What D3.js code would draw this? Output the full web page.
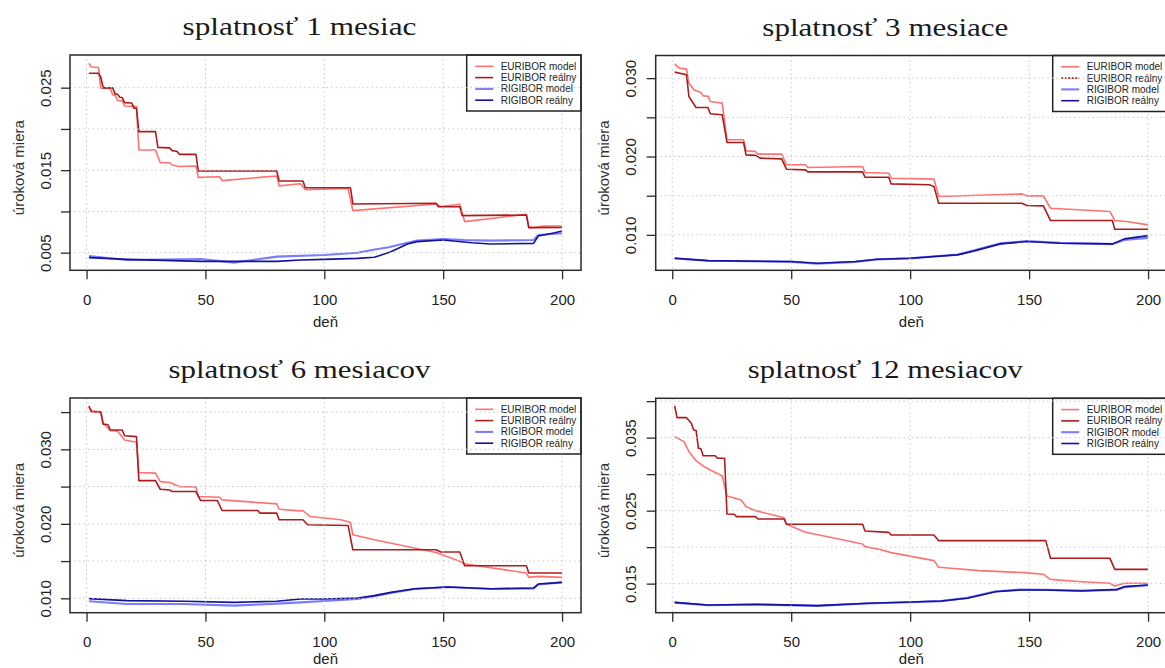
<!DOCTYPE html>
<html>
<head>
<meta charset="utf-8">
<script src="https://cdn.jsdelivr.net/npm/d3@7/dist/d3.min.js"></script>
<style>
  html, body { margin: 0; padding: 0; background: #fff; }
  svg { display: block; }
</style>
</head>
<body>
<svg id="chart" width="1165" height="668"></svg>
<script>
// ---- data: [deň, úroková miera] ----
// splatnosť 1 mesiac
const eurModel1 = [[1,.02795],[2,.02750],[5,.02745],[6,.02495],[10,.02490],[11,.02412],[12,.02410],[13,.02345],[15,.02340],[16,.02278],[21,.02270],[22,.01745],[29,.01745],[31,.01590],[35,.01590],[36,.01563],[39,.01545],[46,.01550],[47,.01413],[56,.01420],[57,.01373],[80,.01430],[81,.01310],[90,.01335],[92,.01262],[110,.01278],[112,.01010],[147,.01090],[149,.01060],[157,.01087],[159,.00877],[185,.00965],[186,.00807],[189,.00807],[192,.00822],[200,.00824]];
const eurReal1 = [[1,.02674],[5,.02674],[6,.02626],[7,.02497],[11,.02497],[12,.02425],[13,.02420],[14,.02384],[15,.02380],[16,.02319],[19,.02315],[20,.02250],[21,.02250],[22,.01967],[29,.01967],[30,.01777],[35,.01770],[36,.01737],[38,.01730],[39,.01692],[46,.01692],[47,.01490],[80,.01490],[81,.01369],[91,.01369],[92,.01288],[111,.01288],[112,.01091],[147,.01100],[148,.01056],[157,.01056],[158,.00949],[185,.00957],[186,.00804],[200,.00806]];
const rigModel1 = [[1,.00460],[17,.00412],[48,.00424],[62,.00380],[80,.00452],[100,.00472],[114,.00500],[120,.00533],[127,.00565],[135,.00621],[139,.00646],[150,.00666],[159,.00653],[170,.00646],[188,.00653],[190,.00714],[200,.00735]];
const rigReal1 = [[1,.00440],[17,.00419],[48,.00395],[80,.00395],[90,.00411],[100,.00419],[114,.00431],[121,.00444],[124,.00472],[128,.00512],[135,.00605],[139,.00634],[150,.00653],[162,.00621],[170,.00605],[188,.00613],[190,.00702],[197,.00742],[200,.00762]];

// splatnosť 3 mesiace
const eurModel3 = [[1,.03183],[3,.03128],[6,.03115],[7,.02936],[8,.02900],[9,.02851],[12,.02817],[13,.02774],[15,.02770],[16,.02702],[21,.02681],[23,.02213],[30,.02213],[31,.02072],[35,.02065],[36,.02030],[46,.02030],[48,.01894],[56,.01894],[57,.01860],[80,.01872],[81,.01796],[91,.01787],[92,.01723],[110,.01711],[112,.01489],[147,.01523],[149,.01498],[156,.01498],[159,.01340],[184,.01298],[186,.01183],[191,.01170],[200,.01128]];
const eurReal3 = [[1,.03077],[6,.03043],[7,.02766],[10,.02626],[15,.02626],[16,.02545],[21,.02532],[23,.02179],[30,.02179],[31,.02021],[35,.02015],[37,.01979],[46,.01970],[48,.01838],[56,.01830],[57,.01804],[80,.01804],[81,.01736],[91,.01736],[92,.01651],[108,.01640],[110,.01617],[112,.01404],[147,.01404],[149,.01374],[156,.01370],[159,.01183],[185,.01183],[186,.01072],[200,.01072]];
const rigModel3 = [[1,.00700],[15,.00670],[50,.00655],[61,.00632],[77,.00655],[86,.00685],[100,.00700],[120,.00750],[127,.00805],[138,.00892],[149,.00922],[163,.00898],[185,.00882],[190,.00935],[200,.00962]];
const rigReal3 = [[1,.00702],[15,.00672],[50,.00660],[61,.00638],[77,.00660],[86,.00689],[100,.00702],[120,.00745],[127,.00796],[138,.00885],[149,.00915],[163,.00894],[185,.00885],[190,.00949],[200,.00991]];

// splatnosť 6 mesiacov
const eurModel6 = [[1,.03580],[2,.03518],[6,.03504],[7,.03339],[8,.03320],[10,.03250],[13,.03245],[16,.03125],[21,.03094],[22,.02688],[29,.02680],[31,.02567],[35,.02554],[39,.02500],[46,.02495],[47,.02366],[56,.02357],[57,.02321],[80,.02268],[81,.02196],[90,.02174],[91,.02179],[94,.02098],[107,.02054],[111,.02018],[112,.01853],[121,.01786],[147,.01616],[157,.01496],[159,.01464],[185,.01339],[186,.01281],[190,.01295],[200,.01281]];
const eurReal6 = [[1,.03580],[2,.03504],[6,.03500],[7,.03339],[9,.03330],[10,.03259],[15,.03259],[16,.03183],[21,.03170],[22,.02580],[29,.02580],[31,.02464],[35,.02455],[36,.02433],[46,.02433],[48,.02313],[55,.02313],[57,.02179],[72,.02179],[73,.02143],[80,.02143],[81,.02054],[91,.02054],[93,.01987],[110,.01978],[112,.01652],[147,.01652],[149,.01621],[157,.01621],[159,.01438],[185,.01438],[186,.01339],[200,.01339]];
const rigModel6 = [[1,.00960],[17,.00924],[41,.00924],[62,.00902],[80,.00929],[90,.00946],[100,.00964],[114,.00991],[121,.01027],[128,.01071],[138,.01125],[152,.01152],[170,.01125],[188,.01134],[190,.01185],[200,.01214]];
const rigReal6 = [[1,.00996],[17,.00969],[41,.00960],[62,.00946],[80,.00960],[90,.00991],[100,.00991],[114,.01004],[121,.01036],[128,.01080],[138,.01129],[152,.01152],[170,.01129],[188,.01138],[190,.01192],[200,.01214]];

// splatnosť 12 mesiacov
const eurModel12 = [[1,.03514],[5,.03445],[7,.03308],[10,.03185],[13,.03112],[16,.03057],[21,.02975],[23,.02701],[29,.02646],[31,.02555],[35,.02500],[47,.02404],[48,.02313],[56,.02203],[70,.02112],[80,.02043],[81,.02007],[87,.01970],[92,.01925],[110,.01815],[112,.01724],[129,.01678],[148,.01651],[156,.01628],[159,.01559],[172,.01527],[184,.01505],[186,.01468],[190,.01505],[200,.01505]];
const eurReal12 = [[1,.03934],[2,.03774],[6,.03774],[8,.03696],[9,.03605],[10,.03600],[11,.03354],[12,.03350],[13,.03253],[18,.03253],[19,.03217],[22,.03217],[23,.02454],[26,.02450],[27,.02418],[35,.02418],[36,.02386],[47,.02386],[48,.02313],[80,.02313],[81,.02221],[91,.02203],[92,.02167],[110,.02167],[112,.02089],[157,.02089],[159,.01847],[184,.01847],[186,.01696],[200,.01696]];
const rigModel12 = [[1,.01240],[15,.01205],[36,.01212],[61,.01195],[82,.01228],[100,.01245],[113,.01260],[124,.01305],[136,.01395],[146,.01418],[157,.01415],[172,.01405],[187,.01415],[190,.01452],[200,.01478]];
const rigReal12 = [[1,.01244],[15,.01208],[36,.01217],[61,.01199],[82,.01231],[100,.01249],[113,.01263],[124,.01299],[136,.01390],[146,.01413],[157,.01413],[172,.01400],[187,.01422],[190,.01459],[200,.01482]];

// ---- labels and ticks ----
const titles = ["splatnosť 1 mesiac", "splatnosť 3 mesiace", "splatnosť 6 mesiacov", "splatnosť 12 mesiacov"];
const seriesNames = ["EURIBOR model", "EURIBOR reálny", "RIGIBOR model", "RIGIBOR reálny"];
const xTicks = [0, 50, 100, 150, 200];
const yTicks1 = [0.005, 0.010, 0.015, 0.020, 0.025];
const yTicks3 = [0.010, 0.015, 0.020, 0.025, 0.030];
const yTicks6 = [0.010, 0.015, 0.020, 0.025, 0.030, 0.035];
const yTicks12 = [0.015, 0.020, 0.025, 0.030, 0.035, 0.040];
const yLabeled1 = [0.005, 0.015, 0.025];
const yLabeled3 = [0.010, 0.020, 0.030];
const yLabeled6 = [0.010, 0.020, 0.030];
const yLabeled12 = [0.015, 0.025, 0.035];
const xLabel = "deň";
const yLabel = "úroková miera";

// ---- styling ----
const colors = ["#ff7272", "#ad1c1c", "#7c7cff", "#12129e"];
const widths = [1.6, 1.6, 2.1, 1.6];

// ---- panel layout (plot regions in px) ----
const panels = [
  { title: titles[0], x0: 70,    x1: 581,  y0: 55,    y1: 270.3, yDom: [0.002866, 0.02896], yTicks: yTicks1,  yLab: yLabeled1,  data: [eurModel1, eurReal1, rigModel1, rigReal1], titleW: 234, xTitleY: 321, legendDash: [null, null, null, null] },
  { title: titles[1], x0: 655.7, x1: 1167, y0: 55.5,  y1: 270.3, yDom: [0.00548, 0.03289],  yTicks: yTicks3,  yLab: yLabeled3,  data: [eurModel3, eurReal3, rigModel3, rigReal3], titleW: 246, xTitleY: 321, legendDash: [null, "2,1.5", null, null] },
  { title: titles[2], x0: 70,    x1: 581,  y0: 398,   y1: 612.7, yDom: [0.00807, 0.03689],  yTicks: yTicks6,  yLab: yLabeled6,  data: [eurModel6, eurReal6, rigModel6, rigReal6], titleW: 262, xTitleY: 658, legendDash: [null, null, null, null] },
  { title: titles[3], x0: 655.7, x1: 1167, y0: 398.3, y1: 612.7, yDom: [0.01102, 0.04039],  yTicks: yTicks12, yLab: yLabeled12, data: [eurModel12, eurReal12, rigModel12, rigReal12], titleW: 275, xTitleY: 658, legendDash: [null, null, null, null] }
];

const svg = d3.select("#chart");
svg.append("rect").attr("width", 1165).attr("height", 668).attr("fill", "#fff");

const sans = "'Liberation Sans', Arial, sans-serif";
const serif = "'Liberation Serif', 'DejaVu Serif', serif";
const fmt = d3.format(".3f");

panels.forEach((p, i) => {
  const g = svg.append("g");
  const x = d3.scaleLinear().domain([-6.96, 207.96]).range([p.x0, p.x1]);
  const y = d3.scaleLinear().domain(p.yDom).range([p.y1, p.y0]);

  // title
  g.append("text")
    .attr("x", (p.x0 + p.x1) / 2 - 26)
    .attr("y", p.y0 - 20)
    .attr("text-anchor", "middle")
    .attr("font-family", serif)
    .attr("font-size", 25)
    .attr("textLength", p.titleW)
    .attr("lengthAdjust", "spacingAndGlyphs")
    .attr("fill", "#1a1a1a")
    .text(p.title);

  // series
  const clipId = "clip" + i;
  g.append("clipPath").attr("id", clipId)
    .append("rect").attr("x", p.x0).attr("y", p.y0)
    .attr("width", p.x1 - p.x0).attr("height", p.y1 - p.y0);
  const line = d3.line().x(d => x(d[0])).y(d => y(d[1]));
  const lines = g.append("g").attr("clip-path", `url(#${clipId})`);
  p.data.forEach((s, k) => {
    lines.append("path")
      .attr("d", line(s))
      .attr("fill", "none")
      .attr("stroke", colors[k])
      .attr("stroke-width", widths[k])
      .attr("stroke-linejoin", "round");
  });

  // legend (top-right corner)
  const lw = 114.3, lh = 56;
  const lx = p.x1 - lw, ly = p.y0;
  const leg = g.append("g");
  leg.append("rect")
    .attr("x", lx).attr("y", ly).attr("width", lw).attr("height", lh)
    .attr("fill", "#fff").attr("stroke", "#222").attr("stroke-width", 1.5);
  seriesNames.forEach((name, k) => {
    const yy = ly + 11.3 + k * 11.3;
    leg.append("line")
      .attr("x1", lx + 8.5).attr("x2", lx + 26.5)
      .attr("y1", yy).attr("y2", yy)
      .attr("stroke", colors[k]).attr("stroke-width", widths[k])
      .attr("stroke-dasharray", p.legendDash[k]);
    leg.append("text")
      .attr("x", lx + 34).attr("y", yy)
      .attr("dominant-baseline", "central")
      .attr("font-family", sans).attr("font-size", 10)
      .attr("fill", "#222")
      .text(name);
  });

  // grid (drawn over the lines)
  const grid = g.append("g")
    .attr("stroke", "#c8c8c8").attr("stroke-width", 1)
    .attr("stroke-dasharray", "1.5,3");
  xTicks.forEach(t => {
    grid.append("line").attr("x1", x(t)).attr("x2", x(t))
      .attr("y1", p.y0).attr("y2", p.y1);
  });
  p.yTicks.forEach(t => {
    grid.append("line").attr("x1", p.x0).attr("x2", p.x1)
      .attr("y1", y(t)).attr("y2", y(t));
  });

  // box
  g.append("rect")
    .attr("x", p.x0).attr("y", p.y0)
    .attr("width", p.x1 - p.x0).attr("height", p.y1 - p.y0)
    .attr("fill", "none").attr("stroke", "#2a2a2a").attr("stroke-width", 1.5);

  // x axis
  const xAxis = d3.axisBottom(x).tickValues(xTicks).tickSize(9).tickPadding(15).tickFormat(d3.format("d"));
  const xa = g.append("g").attr("transform", `translate(0,${p.y1})`).call(xAxis);
  xa.select(".domain").remove();
  xa.selectAll(".tick line").attr("stroke", "#2a2a2a").attr("stroke-width", 1.3);
  xa.selectAll(".tick text").attr("font-family", sans).attr("font-size", 15).attr("fill", "#222");

  // y axis (labels rotated, only some labelled)
  const yAxis = d3.axisLeft(y).tickValues(p.yTicks).tickSize(9)
    .tickFormat(d => p.yLab.some(v => Math.abs(v - d) < 1e-9) ? fmt(d) : "");
  const ya = g.append("g").attr("transform", `translate(${p.x0},0)`).call(yAxis);
  ya.select(".domain").remove();
  ya.selectAll(".tick line").attr("stroke", "#2a2a2a").attr("stroke-width", 1.3);
  ya.selectAll(".tick text")
    .attr("font-family", sans).attr("font-size", 15).attr("fill", "#222")
    .attr("x", null).attr("dy", null)
    .attr("text-anchor", "middle")
    .attr("dominant-baseline", "central")
    .attr("transform", "translate(-25,0) rotate(-90)");

  // axis titles
  g.append("text")
    .attr("x", (p.x0 + p.x1) / 2)
    .attr("y", p.xTitleY)
    .attr("text-anchor", "middle").attr("dominant-baseline", "central")
    .attr("font-family", sans).attr("font-size", 15).attr("fill", "#222")
    .text(xLabel);
  g.append("text")
    .attr("transform", `translate(${p.x0 - 52},${(p.y0 + p.y1) / 2 + 5}) rotate(-90)`)
    .attr("text-anchor", "middle").attr("dominant-baseline", "central")
    .attr("font-family", sans).attr("font-size", 15).attr("fill", "#333")
    .text(yLabel);
});
</script>
</body>
</html>
